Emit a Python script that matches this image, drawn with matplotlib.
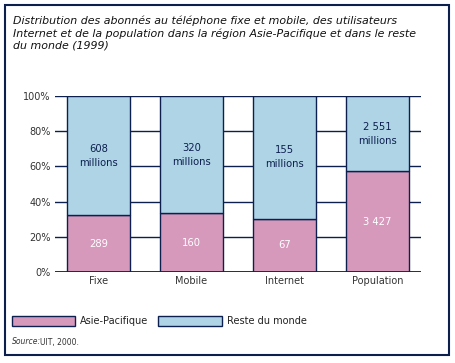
import matplotlib.pyplot as plt
from matplotlib.patches import Rectangle

categories = ['Fixe', 'Mobile', 'Internet', 'Population']
asia = [289, 160, 67, 3427]
rest = [608, 320, 155, 2551]
asia_labels = ['289', '160', '67', '3 427']
rest_labels = ['608\nmillions', '320\nmillions', '155\nmillions', '2 551\nmillions']
yticks = [0, 20, 40, 60, 80, 100]

pink = '#d699bb'
blue = '#aed4e6'
navy = '#0d1f4f'

W, H = 455, 363
fig = plt.figure(figsize=(W / 100, H / 100), dpi=100)

def fx(px):
    return px / W

def fy(py):
    return 1 - py / H

# outer frame
fig.patches.append(Rectangle((fx(5), fy(355)), fx(449) - fx(5), fy(5) - fy(355),
                             transform=fig.transFigure, fill=False,
                             edgecolor=navy, linewidth=1.5))

fig.text(fx(13), fy(15), "Distribution des abonnés au téléphone fixe et mobile, des utilisateurs\n"
         "Internet et de la population dans la région Asie-Pacifique et dans le reste\n"
         "du monde (1999)", ha='left', va='top', fontsize=7.9, style='italic',
         color='#111111', linespacing=1.3)

ax = fig.add_axes([fx(55), fy(272), fx(421) - fx(55), fy(96) - fy(272)])

x = list(range(len(categories)))
tot = [a + r for a, r in zip(asia, rest)]
pa = [100 * a / t for a, t in zip(asia, tot)]
pr = [100 * r / t for r, t in zip(rest, tot)]

for y in yticks:
    ax.axhline(y, color=navy, linewidth=1.0, zorder=1)
ax.bar(x, pa, width=0.68, color=pink, edgecolor=navy, linewidth=1.0, zorder=2)
ax.bar(x, pr, bottom=pa, width=0.68, color=blue, edgecolor=navy, linewidth=1.0, zorder=2)
ax.axhline(0, color=navy, linewidth=2.0, zorder=3)

for i in x:
    ax.text(i, pa[i] / 2, asia_labels[i], ha='center', va='center', color='white',
            fontsize=8, fontstretch='condensed', zorder=4)
    ax.text(i, pa[i] + pr[i] / 2, rest_labels[i], ha='center', va='center', color=navy,
            fontsize=8, fontstretch='condensed', linespacing=1.5, zorder=4)

ax.set_xlim(-0.47, 3.47)
ax.set_ylim(0, 100)
ax.set_yticks(yticks)
ax.set_yticklabels([f'{v}%' for v in yticks])
ax.set_xticks(x)
ax.set_xticklabels(categories)
ax.tick_params(length=0, labelsize=7, labelcolor='#333333', pad=3)
for s in ax.spines.values():
    s.set_visible(False)

# legend
for (x0, x1, c, lab) in [(12, 75, pink, 'Asie-Pacifique'), (158, 222, blue, 'Reste du monde')]:
    fig.patches.append(Rectangle((fx(x0), fy(326)), fx(x1) - fx(x0), fy(316) - fy(326),
                                 transform=fig.transFigure, facecolor=c,
                                 edgecolor=navy, linewidth=1.0))
    fig.text(fx(x1 + 5), fy(321), lab, ha='left', va='center', fontsize=7, color='#222222')

fig.text(fx(12), fy(342), 'Source:', ha='left', va='center', fontsize=5.5,
         style='italic', color='#333333')
fig.text(fx(40), fy(342), 'UIT, 2000.', ha='left', va='center', fontsize=5.5, color='#333333')

fig.savefig('out.png', dpi=100)
